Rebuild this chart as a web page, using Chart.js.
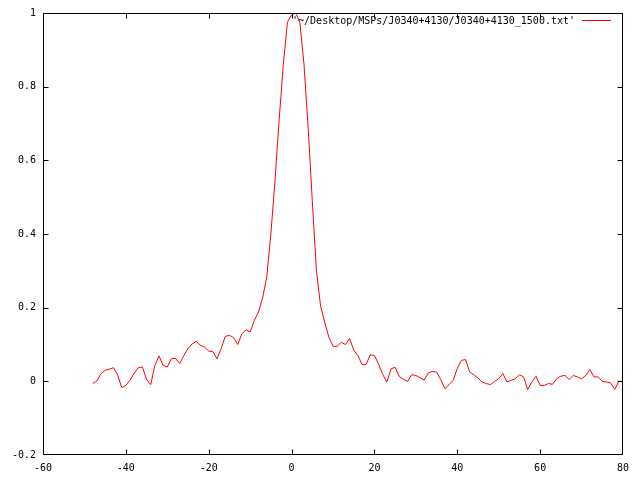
<!DOCTYPE html>
<html>
<head>
<meta charset="utf-8">
<script src="https://cdn.jsdelivr.net/npm/chart.js@4.4.0/dist/chart.umd.min.js"></script>
<style>
  html, body { margin: 0; padding: 0; background: #ffffff; }
  #wrap { width: 640px; height: 480px; }
</style>
</head>
<body>
<div id="wrap"><canvas id="profile" width="640" height="480"></canvas></div>
<script>
const canvas = document.getElementById("profile");
//file name shown in the key
const seriesLabel = "'~/Desktop/MSPs/J0340+4130/J0340+4130_1500.txt'";
//x positions of the samples
const xValues = [
  -48, -47, -46, -45, -44, -43, -42, -41, -40, -39,
  -38, -37, -36, -35, -34, -33, -32, -31, -30, -29,
  -28, -27, -26, -25, -24, -23, -22, -21, -20, -19,
  -18, -17, -16, -15, -14, -13, -12, -11, -10, -9,
  -8, -7, -6, -5, -4, -3, -2, -1, 0, 1,
  2, 3, 4, 5, 6, 7, 8, 9, 10, 11,
  12, 13, 14, 15, 16, 17, 18, 19, 20, 21,
  22, 23, 24, 25, 26, 27, 28, 29, 30, 31,
  32, 33, 34, 35, 36, 37, 38, 39, 40, 41,
  42, 43, 44, 45, 46, 47, 48, 49, 50, 51,
  52, 53, 54, 55, 56, 57, 58, 59, 60, 61,
  62, 63, 64, 65, 66, 67, 68, 69, 70, 71,
  72, 73, 74, 75, 76, 77, 78, 79, 80
];
//normalised intensity
const yValues = [
  -0.006, 0.001, 0.021, 0.030, 0.033, 0.037, 0.018, -0.017, -0.011, 0.003,
  0.022, 0.037, 0.039, 0.005, -0.009, 0.043, 0.069, 0.043, 0.039, 0.062,
  0.062, 0.048, 0.070, 0.089, 0.102, 0.108, 0.098, 0.093, 0.082, 0.081,
  0.061, 0.089, 0.122, 0.125, 0.119, 0.100, 0.129, 0.140, 0.134, 0.165,
  0.188, 0.226, 0.283, 0.400, 0.545, 0.710, 0.860, 0.975, 0.995, 1.000,
  0.975, 0.860, 0.690, 0.490, 0.300, 0.205, 0.160, 0.120, 0.095, 0.095,
  0.106, 0.100, 0.116, 0.085, 0.070, 0.046, 0.046, 0.072, 0.070, 0.047,
  0.019, -0.002, 0.034, 0.038, 0.013, 0.005, 0.000, 0.018, 0.016, 0.010,
  0.003, 0.023, 0.027, 0.025, 0.005, -0.020, -0.009, 0.003, 0.035, 0.057,
  0.059, 0.025, 0.018, 0.009, -0.002, -0.006, -0.009, 0.000, 0.007, 0.021,
  -0.002, 0.003, 0.007, 0.018, 0.012, -0.022, -0.002, 0.014, -0.011, -0.011,
  -0.006, -0.008, 0.007, 0.014, 0.016, 0.005, 0.016, 0.012, 0.007, 0.016,
  0.032, 0.012, 0.012, 0.000, -0.002, -0.004, -0.022, 0.000, 0.000
];
//axis ranges and tick steps
const xRange = [-60, 80];
const yRange = [-0.2, 1];
const xStep = 20;
const yStep = 0.2;

const points = xValues.map((x, i) => ({ x: x, y: yValues[i] }));
const tickFont = { family: "DejaVu Sans Mono", size: 10 };

//frame, inward ticks on all four sides and the key in the corner
const gnuplotFrame = {
  id: "gnuplotFrame",
  afterDraw(chart) {
    const ctx = chart.ctx;
    const a = chart.chartArea;
    const tick = 5;
    //crisp frame edges
    const l = Math.round(a.left) + 0.5;
    const r = Math.round(a.right) - 0.5;
    const t = Math.round(a.top) + 0.5;
    const b = Math.round(a.bottom) - 0.5;
    ctx.save();
    ctx.strokeStyle = "#000000";
    ctx.lineWidth = 1;
    ctx.beginPath();
    ctx.rect(l, t, r - l, b - t);
    for (let tk of chart.scales.x.ticks) {
      let px = Math.round(chart.scales.x.getPixelForValue(tk.value)) + 0.5;
      px = Math.min(Math.max(px, l), r);
      ctx.moveTo(px, b);
      ctx.lineTo(px, b - tick);
      ctx.moveTo(px, t);
      ctx.lineTo(px, t + tick);
    }
    for (let tk of chart.scales.y.ticks) {
      let py = Math.round(chart.scales.y.getPixelForValue(tk.value)) + 0.5;
      py = Math.min(Math.max(py, t), b);
      ctx.moveTo(l, py);
      ctx.lineTo(l + tick, py);
      ctx.moveTo(r, py);
      ctx.lineTo(r - tick, py);
    }
    ctx.stroke();
    //key
    ctx.font = "10px 'DejaVu Sans Mono'";
    ctx.fillStyle = "#000000";
    ctx.textAlign = "right";
    ctx.textBaseline = "middle";
    ctx.fillText(chart.data.datasets[0].label, 575, 21);
    ctx.strokeStyle = "#ff0000";
    ctx.beginPath();
    ctx.moveTo(582, 20.5);
    ctx.lineTo(611, 20.5);
    ctx.stroke();
    ctx.restore();
  },
};

let profileChart = new Chart(canvas, {
  type: "line",
  plugins: [gnuplotFrame],
  data: {
    datasets: [
      {
        label: seriesLabel,
        data: points,
        borderColor: "#ff0000",
        borderWidth: 1,
        pointRadius: 0,
        tension: 0,
        fill: false,
      },
    ],
  },
  options: {
    responsive: false,
    animation: false,
    layout: { padding: { left: 0, right: 17, top: 12, bottom: 0 } },
    plugins: {
      legend: { display: false },
      tooltip: { enabled: false },
    },
    scales: {
      x: {
        type: "linear",
        min: xRange[0],
        max: xRange[1],
        grid: { display: false, drawTicks: false },
        border: { display: false },
        ticks: {
          stepSize: xStep,
          color: "#000000",
          font: tickFont,
          padding: 7,
          maxRotation: 0,
        },
        afterFit: (scale) => { scale.height = 25; },
      },
      y: {
        min: yRange[0],
        max: yRange[1],
        grid: { display: false, drawTicks: false },
        border: { display: false },
        ticks: {
          stepSize: yStep,
          color: "#000000",
          font: tickFont,
          padding: 7,
          callback: (v) => String(Number(v.toFixed(1))),
        },
        afterFit: (scale) => { scale.width = 43; },
      },
    },
  },
});
</script>
</body>
</html>
